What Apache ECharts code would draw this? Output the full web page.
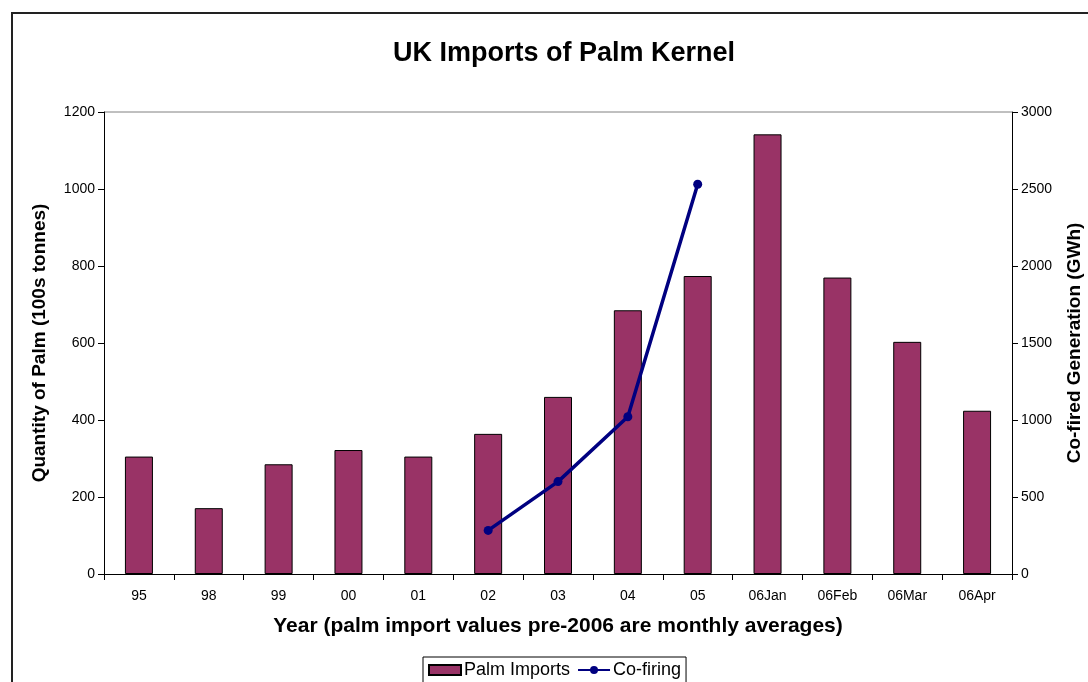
<!DOCTYPE html>
<html>
<head>
<meta charset="utf-8">
<script src="https://cdn.jsdelivr.net/npm/echarts@6/dist/echarts.min.js"></script>
<style>html,body{margin:0;padding:0;background:#fff;overflow:hidden}#c{width:1088px;height:682px}</style>
</head>
<body>
<div id="c"></div>
<script>
const categories = ['95','98','99','00','01','02','03','04','05','06Jan','06Feb','06Mar','06Apr'];
const palmImports = [305, 171, 285, 322, 305, 364, 460, 685, 774, 1142, 770, 603, 424];
const coFiring = [null, null, null, null, null, 283, 600, 1021, 2531, null, null, null, null];
const leftTicks = [0, 200, 400, 600, 800, 1000, 1200];
const rightTicks = [0, 500, 1000, 1500, 2000, 2500, 3000];

const FONT = '"Liberation Sans", Arial, sans-serif';
const chart = echarts.init(document.getElementById('c'), null, {renderer: 'canvas'});
chart.setOption({
  animation: false,
  backgroundColor: '#fff',
  textStyle: {fontFamily: FONT},
  graphic: [
    {type: 'rect', shape: {x: 12, y: 13, width: 1090, height: 690}, style: {fill: 'none', stroke: '#222', lineWidth: 2}, silent: true},
    {type: 'line', shape: {x1: 104, y1: 112, x2: 1012, y2: 112}, style: {stroke: '#808080', lineWidth: 1}, silent: true}
  ],
  title: {
    text: 'UK Imports of Palm Kernel',
    left: 388, top: 35,
    textStyle: {fontFamily: FONT, fontSize: 27, fontWeight: 'bold', color: '#000'}
  },
  legend: {
    left: 423, top: 657,
    padding: [4, 5, 6, 5],
    itemGap: 7,
    borderColor: '#000', borderWidth: 1,
    itemWidth: 32, itemHeight: 10,
    textStyle: {fontFamily: FONT, fontSize: 18, color: '#000', padding: [0, 0, 0, -2]},
    data: [
      {name: 'Palm Imports', icon: 'rect'},
      {name: 'Co-firing'}
    ]
  },
  grid: {left: 104, right: 76, top: 112, bottom: 108, outerBoundsMode: 'none', containLabel: false},
  xAxis: {
    type: 'category',
    data: categories,
    boundaryGap: true,
    name: 'Year (palm import values pre-2006 are monthly averages)',
    nameLocation: 'middle', nameGap: 42,
    nameTextStyle: {fontFamily: FONT, fontSize: 21, fontWeight: 'bold', color: '#000'},
    axisLine: {lineStyle: {color: '#000', width: 1}},
    axisTick: {show: true, alignWithLabel: false, length: 6, lineStyle: {color: '#000'}},
    axisLabel: {fontFamily: FONT, fontSize: 14, color: '#000', margin: 15, interval: 0},
    splitLine: {show: false}
  },
  yAxis: [
    {
      type: 'value', min: 0, max: 1200, interval: 200,
      name: 'Quantity of Palm (100s tonnes)',
      nameLocation: 'middle', nameGap: 55, nameRotate: 90,
      nameTextStyle: {fontFamily: FONT, fontSize: 19, fontWeight: 'bold', color: '#000'},
      axisLine: {show: true, lineStyle: {color: '#000'}},
      axisTick: {show: true, length: 6, lineStyle: {color: '#000'}},
      axisLabel: {fontFamily: FONT, fontSize: 14, color: '#000', margin: 9, formatter: v => String(v)},
      splitLine: {show: false}
    },
    {
      type: 'value', min: 0, max: 3000, interval: 500,
      position: 'right',
      name: 'Co-fired Generation (GWh)',
      nameLocation: 'middle', nameGap: 53, nameRotate: 90,
      nameTextStyle: {fontFamily: FONT, fontSize: 19, fontWeight: 'bold', color: '#000'},
      axisLine: {show: true, lineStyle: {color: '#000'}},
      axisTick: {show: true, length: 6, lineStyle: {color: '#000'}},
      axisLabel: {fontFamily: FONT, fontSize: 14, color: '#000', margin: 9, formatter: v => String(v)},
      splitLine: {show: false}
    }
  ],
  series: [
    {
      name: 'Palm Imports', type: 'bar', yAxisIndex: 0,
      data: palmImports,
      barWidth: 28,
      itemStyle: {color: '#993366', borderColor: '#000', borderWidth: 1}
    },
    {
      name: 'Co-firing', type: 'line', yAxisIndex: 1,
      data: coFiring,
      connectNulls: false,
      symbol: 'circle', symbolSize: 9,
      lineStyle: {color: '#000080', width: 3.5},
      itemStyle: {color: '#000080'}
    }
  ]
});
</script>
</body>
</html>
